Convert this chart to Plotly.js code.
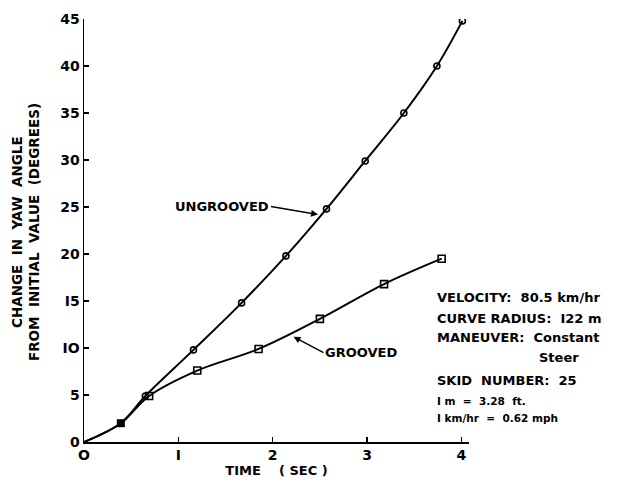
<!DOCTYPE html>
<html>
<head>
<meta charset="utf-8">
<script src="https://cdn.plot.ly/plotly-3.0.1.min.js"></script>
<style>html,body{margin:0;padding:0;background:#fff;}#chart{width:618px;height:484px;}</style>
</head>
<body>
<div id="chart"></div>
<script>
// Data (time in s, yaw angle change in degrees)
const ungroovedTime  = [0, 0.39, 0.65, 1.16, 1.67, 2.14, 2.57, 2.98, 3.39, 3.74, 4.01];
const ungroovedAngle = [0, 2.0, 4.9, 9.8, 14.8, 19.8, 24.8, 29.9, 35.0, 40.0, 44.8];
const groovedTime    = [0, 0.39, 0.69, 1.20, 1.85, 2.50, 3.18, 3.79];
const groovedAngle   = [0, 2.0, 4.9, 7.6, 9.9, 13.1, 16.8, 19.5];
const xTicks = [0, 1, 2, 3, 4];
const xTickLabels = ['O', 'I', '2', '3', '4'];
const yTicks = [0, 5, 10, 15, 20, 25, 30, 35, 40, 45];
const yTickLabels = ['0', '5', 'IO', 'I5', '20', '25', '30', '35', '40', '45'];
const infoLines = ['VELOCITY:  80.5 km/hr', 'CURVE RADIUS:  I22 m', 'MANEUVER:  Constant', 'Steer',
                   'SKID  NUMBER:  25', 'I m  =  3.28  ft.', 'I km/hr  =  0.62 mph'];

const F = 'DejaVu Sans, sans-serif';
const fb = (size) => ({family: F, size: size, color: '#000', weight: 'bold'});
const traces = [
  {x: ungroovedTime, y: ungroovedAngle, mode: 'lines', line: {color: '#000', width: 2, shape: 'spline'}, hoverinfo: 'skip'},
  {x: groovedTime, y: groovedAngle, mode: 'lines', line: {color: '#000', width: 2, shape: 'spline'}, hoverinfo: 'skip'},
  {x: ungroovedTime.slice(2), y: ungroovedAngle.slice(2), mode: 'markers',
   marker: {symbol: 'circle-open', size: 6, color: '#000', line: {width: 1.6, color: '#000'}}},
  {x: groovedTime.slice(2), y: groovedAngle.slice(2), mode: 'markers',
   marker: {symbol: 'square-open', size: 7, color: '#000', line: {width: 1.6, color: '#000'}}},
  {x: [groovedTime[1]], y: [groovedAngle[1]], mode: 'markers',
   marker: {symbol: 'square', size: 8, color: '#000'}}
];

const px = (p) => (p - 84) / 385;
const py = (p) => 1 - (p - 19) / 423;
const info = (txt, x, y, size) => ({xref: 'paper', yref: 'paper', x: px(x), y: py(y), text: txt,
  showarrow: false, xanchor: 'left', yanchor: 'middle', font: fb(size)});

const layout = {
  width: 618, height: 484,
  margin: {l: 84, r: 149, t: 19, b: 42},
  paper_bgcolor: '#fff', plot_bgcolor: '#fff',
  showlegend: false,
  font: {family: F, color: '#000'},
  xaxis: {
    range: [0, 4.08], showgrid: false, zeroline: false,
    showline: true, linecolor: '#000', linewidth: 1.5,
    ticks: 'inside', ticklen: 5, tickwidth: 1.2, tickcolor: '#000',
    tickvals: xTicks, ticktext: xTickLabels,
    tickfont: fb(14),
    title: {text: 'TIME    ( SEC )', font: fb(13), standoff: 2}
  },
  yaxis: {
    range: [0, 45], showgrid: false, zeroline: false,
    showline: true, linecolor: '#000', linewidth: 1.5,
    ticks: 'inside', ticklen: 5, tickwidth: 1.2, tickcolor: '#000',
    tickvals: yTicks, ticktext: yTickLabels,
    tickfont: fb(14)
  },
  annotations: [
    {xref: 'paper', yref: 'paper', x: px(17), y: py(232), text: 'CHANGE  IN  YAW  ANGLE', textangle: -90,
     showarrow: false, font: fb(13.5), xanchor: 'center', yanchor: 'middle'},
    {xref: 'paper', yref: 'paper', x: px(34), y: py(232), text: 'FROM  INITIAL  VALUE  (DEGREES)', textangle: -90,
     showarrow: false, font: fb(13.5), xanchor: 'center', yanchor: 'middle'},
    {x: 2.48, y: 24.2, text: 'UNGROOVED', showarrow: true, arrowhead: 2, arrowsize: 1, arrowwidth: 1.4,
     arrowcolor: '#000', ax: -47, ay: -8, xanchor: 'right', font: fb(13)},
    {x: 2.22, y: 11.2, text: 'GROOVED', showarrow: true, arrowhead: 2, arrowsize: 1, arrowwidth: 1.4,
     arrowcolor: '#000', ax: 30, ay: 16, xanchor: 'left', font: fb(13)},
    info(infoLines[0], 435, 297, 13),
    info(infoLines[1], 435, 318, 13),
    info(infoLines[2], 435, 337, 13),
    info(infoLines[3], 537, 357, 13),
    info(infoLines[4], 435, 380, 13),
    info(infoLines[5], 435, 401, 10.5),
    info(infoLines[6], 435, 418, 10.5)
  ]
};

Plotly.newPlot('chart', traces, layout, {staticPlot: true, displayModeBar: false});
</script>
</body>
</html>
